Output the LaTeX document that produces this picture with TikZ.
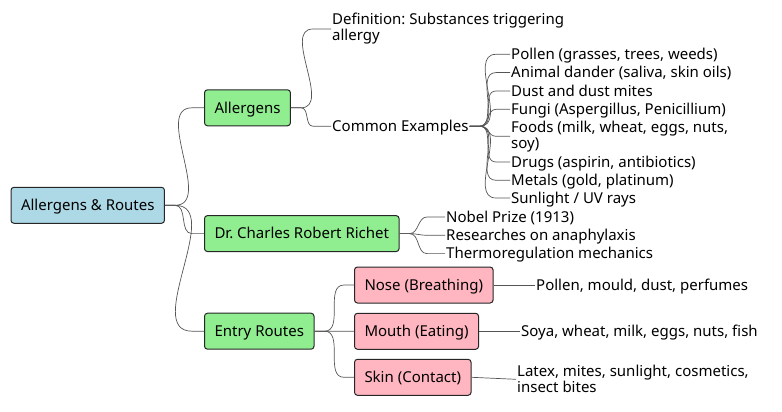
\documentclass[tikz,border=0pt]{standalone}
\usepackage{fontspec}
\setmainfont{Noto Sans}
\frenchspacing
\definecolor{rootblue}{HTML}{ADD8E6}
\definecolor{lgreen}{HTML}{90EE90}
\definecolor{lpink}{HTML}{FFB6C1}
\definecolor{edgegray}{HTML}{555555}
\newcommand\mmconn[4]{\draw[link] (#1.east) -- ++(#3,0) to[out=0,in=180] ([xshift=-#4]#2.west) -- (#2.west);}
\begin{document}
\frenchspacing
\begin{tikzpicture}[x=1pt,y=-1pt,
  box/.style={draw=black!85, line width=1pt, rounded corners=3pt, minimum height=36pt, inner xsep=10pt, inner ysep=2pt, text height=10.7pt, text depth=0pt, font=\fontsize{15}{16}\selectfont\frenchspacing, anchor=west},
  leaf2/.style={inner sep=1pt, anchor=west, align=left, font=\fontsize{15}{16}\selectfont\frenchspacing},
  leaf/.style={leaf2, text height=10.7pt, text depth=0pt},
  link/.style={draw=edgegray, line width=0.7pt}]
\useasboundingbox (0,0) rectangle (782,412);
% boxes
\node[box, fill=rootblue] (root) at (10.5,205.3) {Allergens \& Routes};
\node[box, fill=lgreen] (all) at (204,107.8) {Allergens};
\node[box, fill=lgreen] (ric) at (204,233.6) {Dr. Charles Robert Richet};
\node[box, fill=lgreen] (ent) at (204,331.2) {Entry Routes};
\node[box, fill=lpink] (nose) at (354,285) {Nose (Breathing)};
\node[box, fill=lpink] (mouth) at (354,331.3) {Mouth (Eating)};
\node[box, fill=lpink] (skin) at (354,377.3) {Skin (Contact)};
% leaves
\node[leaf2] (def) at (331,29) {Definition: Substances triggering\\allergy};
\node[leaf] (com) at (331,126.2) {Common Examples};
\node[leaf] (c1) at (510,54.3) {Pollen (grasses, trees, weeds)};
\node[leaf] (c2) at (510,72.6) {Animal dander (saliva, skin oils)};
\node[leaf] (c3) at (510,91) {Dust and dust mites};
\node[leaf] (c4) at (510,109.3) {Fungi (Aspergillus, Penicillium)};
\node[leaf2] (c5) at (510,136.3) {Foods (milk, wheat, eggs, nuts,\\soy)};
\node[leaf] (c6) at (510,162) {Drugs (aspirin, antibiotics)};
\node[leaf] (c7) at (510,180.3) {Metals (gold, platinum)};
\node[leaf] (c8) at (510,198) {Sunlight / UV rays};
\node[leaf] (r1) at (445,217) {Nobel Prize (1913)};
\node[leaf] (r2) at (445,235.3) {Researches on anaphylaxis};
\node[leaf] (r3) at (445,253.6) {Thermoregulation mechanics};
\node[leaf] (nl) at (535,285) {Pollen, mould, dust, perfumes};
\node[leaf] (ml) at (520,331.3) {Soya, wheat, milk, eggs, nuts, fish};
\node[leaf2] (sl) at (516,379.3) {Latex, mites, sunlight, cosmetics,\\insect bites};
% connectors
\mmconn{root}{all}{10pt}{12pt}
\mmconn{root}{ric}{10pt}{12pt}
\mmconn{root}{ent}{10pt}{12pt}
\mmconn{all}{def}{10pt}{18pt}
\mmconn{all}{com}{10pt}{18pt}
\foreach \c in {c1,c2,c3,c4,c5,c6,c7,c8}{\mmconn{com}{\c}{10pt}{14pt}}
\foreach \c in {r1,r2,r3}{\mmconn{ric}{\c}{10pt}{18pt}}
\mmconn{ent}{nose}{10pt}{10pt}
\mmconn{ent}{mouth}{10pt}{10pt}
\mmconn{ent}{skin}{10pt}{10pt}
\draw[link] (nose.east) -- (nl.west);
\draw[link] (mouth.east) -- (ml.west);
\draw[link] (skin.east) -- (sl.west);
\end{tikzpicture}
\end{document}
